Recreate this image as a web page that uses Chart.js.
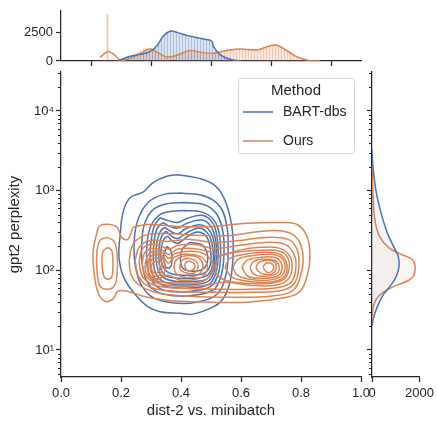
<!DOCTYPE html>
<html>
<head>
<meta charset="utf-8">
<script src="https://cdn.jsdelivr.net/npm/chart.js@4.4.0/dist/chart.umd.min.js"></script>
<style>
  html, body { margin: 0; padding: 0; background: #fff; }
  #wrap { position: relative; width: 438px; height: 422px; }
  #wrap canvas { position: absolute; left: 0; top: 0; }
</style>
</head>
<body>
<div id="wrap">
  <canvas id="joint" width="438" height="422"></canvas>
  <canvas id="top" width="438" height="422"></canvas>
  <canvas id="side" width="438" height="422"></canvas>
</div>
<script>
const blue = '#4c72b0';
const orange = '#dd8452';
const ink = '#262626';

// ---- data ----
const methods = ['BART-dbs', 'Ours'];

// top marginal: histogram bins (dist-2) and counts
const binCenters = [0.115,0.125,0.135,0.145,0.155,0.165,0.175,0.185,0.195,0.205,0.215,0.225,0.235,0.245,0.255,0.265,0.275,0.285,0.295,0.305,0.315,0.325,0.335,0.345,0.355,0.365,0.375,0.385,0.395,0.405,0.415,0.425,0.435,0.445,0.455,0.465,0.475,0.485,0.495,0.505,0.515,0.525,0.535,0.545,0.555,0.565,0.575,0.585,0.595,0.605,0.615,0.625,0.635,0.645,0.655,0.665,0.675,0.685,0.695,0.705,0.715,0.725,0.735,0.745,0.755,0.765,0.775,0.785,0.795,0.805,0.815,0.825,0.835,0.845,0.855,0.865,0.875];
const bartHist = [0,0,0,0,0,0,0,0,60,150,250,350,420,480,550,600,680,760,850,950,1150,1500,1900,2250,2550,2650,2600,2500,2350,2250,2150,2050,2100,1950,2000,1950,1900,1850,1800,1700,900,600,400,250,150,80,30,0,0,0,0,0,0,0,0,0,0,0,0,0,0,0,0,0,0,0,0,0,0,0,0,0,0,0,0,0,0];
const oursHist = [0,0,40,80,4100,120,40,20,50,120,200,300,450,600,750,900,1050,1150,1100,950,800,650,500,400,380,420,500,600,700,800,880,920,900,850,800,760,720,680,660,680,720,800,880,950,1000,1030,1050,1050,1060,1040,1020,1000,990,1000,1030,1100,1200,1300,1360,1400,1400,1350,1250,1100,950,780,600,430,280,170,100,50,25,10,5,0,0];

// top marginal KDE curves
const bartKdeX = [0.19,0.22,0.263,0.297,0.32,0.34,0.363,0.387,0.42,0.463,0.49,0.502,0.51,0.53,0.563,0.6];
const bartKdeY = [0,333,583,833,1333,2167,2620,2520,2250,2000,1870,1750,1190,560,150,0];
const oursKdeX = [0.13,0.157,0.18,0.197,0.23,0.263,0.297,0.32,0.353,0.387,0.43,0.463,0.507,0.553,0.597,0.653,0.697,0.72,0.753,0.787,0.83,0.863];
const oursKdeY = [308,833,500,83,225,640,1058,775,358,500,917,775,692,917,1058,975,1333,1392,917,358,25,0];

// right marginal KDE curves (perplexity as log10)
const bartSideLogPpl = [3.513,3.263,2.971,2.721,2.471,2.304,2.179,2.054,1.929,1.804,1.679,1.513,1.388,1.304];
const bartSideDensity = [0,52,184,380,640,900,1100,1137,1030,770,445,184,52,10];
const oursSideLogPpl = [3.263,2.888,2.638,2.429,2.284,2.2,2.138,2.054,1.929,1.866,1.804,1.721,1.638,1.534,1.429];
const oursSideDensity = [0,52,118,314,706,1228,1686,1815,1750,1490,968,445,184,52,10];

// joint KDE contour rings, points are [dist-2, log10 perplexity]
const bartRings = [
  [[.39,3.2],[.453,3.16],[.507,3.08],[.54,2.93],[.563,2.68],[.573,2.43],[.573,2.14],[.563,1.85],[.54,1.64],[.507,1.54],[.44,1.45],[.397,1.46],[.33,1.48],[.287,1.55],[.24,1.73],[.207,1.93],[.193,2.18],[.197,2.43],[.207,2.73],[.23,2.91],[.273,2.98],[.307,3.1],[.353,3.18]],
  [[.40,2.97],[.48,2.93],[.53,2.8],[.553,2.55],[.557,2.25],[.55,1.95],[.52,1.7],[.45,1.6],[.38,1.59],[.31,1.65],[.27,1.8],[.248,2.05],[.244,2.35],[.255,2.62],[.29,2.85],[.34,2.95]],
  [[.41,2.85],[.48,2.82],[.52,2.7],[.54,2.48],[.543,2.2],[.535,1.95],[.51,1.76],[.45,1.69],[.38,1.68],[.32,1.73],[.285,1.87],[.27,2.1],[.27,2.38],[.28,2.6],[.31,2.77],[.36,2.84]],
  [[.41,2.75],[.47,2.73],[.51,2.63],[.528,2.45],[.532,2.2],[.525,1.97],[.5,1.8],[.44,1.74],[.38,1.73],[.33,1.77],[.298,1.9],[.286,2.1],[.287,2.35],[.3,2.56],[.33,2.7],[.37,2.74]],
  [[.33,2.66],[.36,2.62],[.39,2.6],[.42,2.65],[.47,2.69],[.505,2.6],[.52,2.42],[.524,2.2],[.517,1.98],[.495,1.83],[.44,1.78],[.38,1.78],[.335,1.82],[.307,1.93],[.297,2.12],[.3,2.35],[.31,2.55]],
  [[.34,2.6],[.365,2.55],[.39,2.53],[.42,2.59],[.47,2.63],[.5,2.55],[.515,2.38],[.519,2.18],[.51,1.98],[.49,1.86],[.44,1.82],[.38,1.82],[.34,1.86],[.316,1.96],[.308,2.13],[.31,2.35],[.32,2.52]],
  [[.345,2.54],[.37,2.48],[.39,2.46],[.42,2.53],[.465,2.57],[.495,2.5],[.51,2.35],[.513,2.17],[.505,1.99],[.485,1.89],[.44,1.86],[.385,1.86],[.345,1.9],[.325,1.99],[.317,2.14],[.319,2.33],[.33,2.48]],
  [[.35,2.49],[.372,2.42],[.39,2.4],[.42,2.47],[.46,2.53],[.49,2.46],[.504,2.32],[.508,2.16],[.5,2.0],[.48,1.92],[.44,1.9],[.39,1.9],[.35,1.93],[.332,2.02],[.326,2.15],[.328,2.32],[.337,2.44]],
  [[.355,2.43],[.374,2.36],[.39,2.34],[.42,2.42],[.455,2.48],[.485,2.42],[.497,2.29],[.5,2.14],[.493,2.02],[.475,1.96],[.44,1.94],[.395,1.94],[.358,1.97],[.34,2.05],[.333,2.16],[.335,2.3],[.343,2.39]],
  [[.43,2.35],[.47,2.32],[.488,2.2],[.485,2.07],[.465,2.0],[.43,1.99],[.405,2.03],[.398,2.15],[.405,2.27]],
  [[.352,2.3],[.366,2.25],[.37,2.12],[.362,2.03],[.348,2.05],[.342,2.17]]
];
const oursRings = [
  [[.24,2.54],[.287,2.575],[.397,2.55],[.507,2.55],[.62,2.59],[.73,2.6],[.787,2.575],[.82,2.425],[.83,2.175],[.82,1.925],[.797,1.738],[.753,1.663],[.62,1.6],[.507,1.6],[.397,1.61],[.287,1.663],[.22,1.738],[.19,1.738],[.173,1.638],[.147,1.61],[.123,1.725],[.11,1.975],[.107,2.225],[.12,2.475],[.13,2.56],[.163,2.575],[.187,2.54],[.203,2.41],[.223,2.39]],
  [[.227,2.113],[.24,2.325],[.28,2.438],[.347,2.463],[.463,2.438],[.563,2.438],[.663,2.488],[.747,2.488],[.79,2.388],[.807,2.163],[.797,1.913],[.77,1.738],[.697,1.675],[.563,1.663],[.43,1.675],[.313,1.725],[.257,1.825],[.233,1.95]],
  [[.153,2.413],[.177,2.363],[.187,2.2],[.187,1.95],[.177,1.8],[.153,1.763],[.13,1.8],[.12,1.988],[.12,2.238],[.13,2.375]],
  [[.157,2.288],[.17,2.238],[.173,2.075],[.17,1.925],[.157,1.888],[.143,1.925],[.137,2.075],[.14,2.238]],
  [[.247,2.113],[.26,2.288],[.297,2.375],[.357,2.363],[.43,2.388],[.513,2.35],[.597,2.375],[.68,2.413],[.757,2.388],[.787,2.263],[.793,2.063],[.78,1.85],[.74,1.75],[.63,1.725],[.497,1.725],[.38,1.738],[.297,1.788],[.26,1.913]],
  [[.26,2.1],[.27,2.263],[.297,2.325],[.33,2.313],[.357,2.263],[.39,2.313],[.447,2.325],[.513,2.275],[.597,2.313],[.68,2.35],[.747,2.325],[.777,2.2],[.783,2.038],[.77,1.863],[.73,1.788],[.63,1.763],[.513,1.763],[.397,1.775],[.313,1.813],[.273,1.913]],
  [[.27,2.088],[.28,2.225],[.303,2.275],[.337,2.25],[.36,2.2],[.387,2.263],[.44,2.275],[.49,2.238],[.537,2.188],[.59,2.25],[.663,2.288],[.73,2.275],[.763,2.175],[.77,2.025],[.757,1.888],[.713,1.813],[.63,1.813],[.547,1.85],[.48,1.813],[.397,1.8],[.323,1.838],[.283,1.925]],
  [[.28,2.075],[.29,2.188],[.31,2.238],[.34,2.213],[.36,2.15],[.383,2.213],[.437,2.238],[.48,2.2],[.503,2.1],[.5,1.963],[.473,1.863],[.413,1.838],[.347,1.85],[.303,1.888],[.283,1.975]],
  [[.513,2.05],[.53,2.175],[.58,2.225],[.663,2.25],[.73,2.238],[.757,2.15],[.76,2.013],[.743,1.888],[.697,1.838],[.613,1.838],[.547,1.875],[.52,1.95]],
  [[.287,2.063],[.297,2.163],[.317,2.213],[.34,2.175],[.357,2.088],[.377,2.163],[.413,2.2],[.463,2.175],[.487,2.075],[.48,1.95],[.45,1.888],[.397,1.875],[.357,1.938],[.323,1.888],[.297,1.938]],
  [[.547,2.038],[.563,2.15],[.613,2.2],[.68,2.225],[.73,2.2],[.75,2.113],[.753,2.0],[.737,1.9],[.69,1.85],[.623,1.863],[.57,1.913]],
  [[.317,2.2],[.337,2.163],[.347,2.05],[.34,1.938],[.317,1.888],[.297,1.925],[.29,2.05],[.297,2.163]],
  [[.423,2.188],[.457,2.163],[.473,2.063],[.463,1.963],[.43,1.913],[.39,1.938],[.377,2.05],[.39,2.15]],
  [[.573,2.038],[.59,2.138],[.647,2.188],[.703,2.2],[.737,2.15],[.747,2.038],[.733,1.925],[.69,1.875],[.63,1.888],[.587,1.938]],
  [[.317,2.163],[.333,2.113],[.337,2.038],[.33,1.95],[.313,1.925],[.3,1.975],[.297,2.063],[.303,2.138]],
  [[.427,2.15],[.45,2.113],[.457,2.05],[.447,1.975],[.423,1.963],[.4,2.0],[.397,2.075],[.407,2.138]],
  [[.603,2.038],[.62,2.125],[.67,2.163],[.713,2.163],[.733,2.1],[.737,2.013],[.72,1.925],[.67,1.9],[.623,1.925]],
  [[.317,2.125],[.327,2.088],[.33,2.038],[.323,1.975],[.313,1.963],[.303,2.0],[.303,2.075]],
  [[.43,2.113],[.443,2.088],[.447,2.038],[.437,2.0],[.42,2.0],[.413,2.05],[.417,2.1]],
  [[.63,2.038],[.643,2.113],[.68,2.138],[.713,2.125],[.727,2.05],[.72,1.963],[.683,1.925],[.643,1.95]],
  [[.65,2.038],[.66,2.1],[.69,2.125],[.713,2.1],[.717,2.025],[.707,1.963],[.677,1.95],[.657,1.988]],
  [[.673,2.038],[.683,2.088],[.7,2.088],[.71,2.038],[.703,1.988],[.687,1.975]]
];

// axis ticks
const xTicks = [0, 0.2, 0.4, 0.6, 0.8, 1];
const decadeTicks = [10, 100, 1000, 10000];
const minorTickValues = [5,6,7,8,9,20,30,40,50,60,70,80,90,200,300,400,500,600,700,800,900,2000,3000,4000,5000,6000,7000,8000,9000,20000,30000];
const topYTicks = [0, 2500];
const sideXTicks = [0, 2000];
const sup = { 1: '\u00b9', 2: '\u00b2', 3: '\u00b3', 4: '\u2074' };

Chart.defaults.font.family = '"Liberation Sans", Arial, sans-serif';
Chart.defaults.font.size = 13;
Chart.defaults.color = ink;
Chart.defaults.animation = false;
Chart.defaults.events = [];
Chart.defaults.plugins.legend.display = false;
Chart.defaults.plugins.tooltip.enabled = false;

const ringPoints = ring => ring.concat([ring[0]]).map(p => ({ x: p[0], y: 10 ** p[1] }));
const contourSets = (rings, color) => rings.map(ring => ({
  data: ringPoints(ring),
  showLine: true,
  borderColor: color,
  borderWidth: 1.5,
  pointRadius: 0,
  tension: 0.4,
  fill: false
}));

const fixedTicks = vals => s => { s.ticks = vals.map(v => ({ value: v })); };
const plainNumber = v => String(v);
const spine = { color: ink, width: 1.25 };
const tickGrid = { drawOnChartArea: false, drawTicks: true, tickLength: 5, tickWidth: 1.25, tickColor: ink };

// short unlabelled ticks between the decades of a log axis
const minorTicks = {
  id: 'minorTicks',
  afterDraw(chart, args, opts) {
    const s = chart.scales[opts.axis];
    if (!s) return;
    const ctx = chart.ctx;
    ctx.save();
    ctx.strokeStyle = ink;
    ctx.lineWidth = 1;
    minorTickValues.forEach(v => {
      if (v < s.min || v > s.max) return;
      const y = Math.round(s.getPixelForValue(v)) + 0.5;
      ctx.beginPath();
      ctx.moveTo(s.right, y);
      ctx.lineTo(s.right - 3, y);
      ctx.stroke();
    });
    ctx.restore();
  }
};

const methodLegend = {
  id: 'methodLegend',
  afterDraw(chart) {
    const ctx = chart.ctx;
    const a = chart.chartArea;
    const w = 116, h = 75;
    const left = a.right - 7 - w, top = a.top + 6;
    ctx.save();
    ctx.beginPath();
    ctx.roundRect(left + 0.5, top + 0.5, w, h, 3);
    ctx.fillStyle = 'rgba(255,255,255,0.8)';
    ctx.fill();
    ctx.strokeStyle = '#d6d6d6';
    ctx.lineWidth = 1;
    ctx.stroke();
    ctx.fillStyle = ink;
    ctx.textBaseline = 'middle';
    ctx.textAlign = 'center';
    ctx.font = '15px "Liberation Sans", Arial, sans-serif';
    ctx.fillText('Method', left + w / 2, top + 13);
    ctx.textAlign = 'left';
    ctx.font = '14px "Liberation Sans", Arial, sans-serif';
    [blue, orange].forEach((c, i) => {
      const y = top + 34 + i * 29;
      ctx.strokeStyle = c;
      ctx.lineWidth = 1.5;
      ctx.beginPath();
      ctx.moveTo(left + 5, y);
      ctx.lineTo(left + 35, y);
      ctx.stroke();
      ctx.fillText(methods[i], left + 45, y);
    });
    ctx.restore();
  }
};

// ---- joint plot ----
new Chart(document.getElementById('joint'), {
  type: 'scatter',
  data: { datasets: contourSets(oursRings, orange).concat(contourSets(bartRings, blue)) },
  options: {
    responsive: false,
    layout: { padding: { left: 0, top: 72, right: 77, bottom: 0 } },
    scales: {
      x: {
        type: 'linear', min: 0, max: 1,
        afterBuildTicks: fixedTicks(xTicks),
        ticks: { callback: v => v.toFixed(1), padding: 4, maxRotation: 0, autoSkip: false },
        grid: tickGrid, border: spine,
        title: { display: true, text: 'dist-2 vs. minibatch', font: { size: 15 }, padding: { top: 0, bottom: 2 } },
        afterFit: s => { s.height = 45; }
      },
      y: {
        type: 'logarithmic', min: 4.58, max: 30800,
        afterBuildTicks: fixedTicks(decadeTicks),
        ticks: { callback: v => '10' + sup[Math.round(Math.log10(v))], padding: 2, autoSkip: false },
        grid: tickGrid, border: spine,
        title: { display: true, text: 'gpt2 perplexity', font: { size: 15 }, padding: { top: 6, bottom: 0 } },
        afterFit: s => { s.width = 61; }
      }
    },
    plugins: { minorTicks: { axis: 'y' } }
  },
  plugins: [minorTicks, methodLegend]
});

// ---- top marginal: histogram + KDE of dist-2 ----
const histData = counts => binCenters.map((x, i) => ({ x, y: counts[i] }));
const kdeData = (xs, ys) => xs.map((x, i) => ({ x, y: ys[i] }));
new Chart(document.getElementById('top'), {
  type: 'bar',
  data: {
    datasets: [
      { type: 'line', data: kdeData(bartKdeX, bartKdeY), borderColor: blue, borderWidth: 1.5, pointRadius: 0, tension: 0.4 },
      { type: 'line', data: kdeData(oursKdeX, oursKdeY), borderColor: orange, borderWidth: 1.5, pointRadius: 0, tension: 0.4 },
      { data: histData(bartHist), backgroundColor: 'rgba(76,114,176,0.45)', borderWidth: 0, barThickness: 1.2, grouped: false },
      { data: histData(oursHist), backgroundColor: 'rgba(221,132,82,0.45)', borderWidth: 0, barThickness: 1.2, grouped: false }
    ]
  },
  options: {
    responsive: false,
    layout: { padding: { left: 0, top: 8, right: 77, bottom: 351 } },
    scales: {
      x: {
        type: 'linear', min: 0, max: 1, offset: false,
        afterBuildTicks: fixedTicks(xTicks),
        ticks: { display: false },
        grid: tickGrid, border: spine,
        afterFit: s => { s.height = 10; }
      },
      y: {
        min: 0, max: 4420,
        afterBuildTicks: fixedTicks(topYTicks),
        ticks: { callback: plainNumber, padding: 3, autoSkip: false },
        grid: tickGrid, border: spine,
        afterFit: s => { s.width = 61; }
      }
    }
  }
});

// ---- right marginal: KDE of perplexity ----
const sideData = (ls, ds) => ls.map((l, i) => ({ x: ds[i], y: 10 ** l }));
new Chart(document.getElementById('side'), {
  type: 'line',
  data: {
    datasets: [
      { data: sideData(bartSideLogPpl, bartSideDensity), borderColor: blue, backgroundColor: 'rgba(76,114,176,0.06)', fill: 'origin', borderWidth: 1.5, pointRadius: 0, tension: 0.4 },
      { data: sideData(oursSideLogPpl, oursSideDensity), borderColor: orange, backgroundColor: 'rgba(221,132,82,0.07)', fill: 'origin', borderWidth: 1.5, pointRadius: 0, tension: 0.4 }
    ]
  },
  options: {
    responsive: false,
    indexAxis: 'y',
    layout: { padding: { left: 366, top: 72, right: 15, bottom: 0 } },
    scales: {
      x: {
        type: 'linear', min: 0, max: 2000,
        afterBuildTicks: fixedTicks(sideXTicks),
        ticks: { callback: plainNumber, padding: 4, maxRotation: 0, autoSkip: false },
        grid: tickGrid, border: spine,
        afterFit: s => { s.height = 45; }
      },
      y: {
        type: 'logarithmic', min: 4.58, max: 30800,
        afterBuildTicks: fixedTicks(decadeTicks),
        ticks: { display: false },
        grid: tickGrid, border: spine,
        afterFit: s => { s.width = 6; }
      }
    },
    plugins: { minorTicks: { axis: 'y' } }
  },
  plugins: [minorTicks]
});
</script>
</body>
</html>
